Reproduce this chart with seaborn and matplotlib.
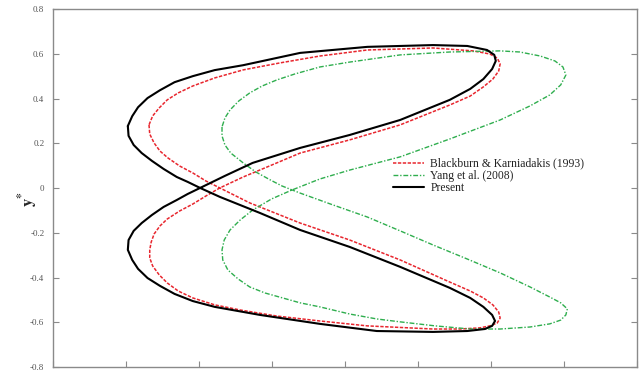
import numpy as np
import pandas as pd
import matplotlib
matplotlib.use("Agg")
import matplotlib.pyplot as plt
import seaborn as sns

# trajectories (x*, y*), each figure-eight traced once
black_x = [-0.297, -0.296, -0.289, -0.278, -0.264, -0.248, -0.230, -0.215, -0.198, -0.171,
           -0.116, -0.061, 0.007, 0.076, 0.144, 0.172, 0.190, 0.202, 0.206, 0.202,
           0.192, 0.168, 0.121, 0.044, -0.034, -0.116, -0.178, -0.208, -0.233, -0.253,
           -0.270, -0.283, -0.291, -0.297, -0.296, -0.289, -0.278, -0.264, -0.248, -0.230,
           -0.215, -0.198, -0.164, -0.126, -0.061, 0.007, 0.076, 0.144, 0.172, 0.190,
           0.202, 0.207, 0.205, 0.195, 0.168, 0.121, 0.031, -0.061, -0.139, -0.178,
           -0.208, -0.233, -0.253, -0.270, -0.283, -0.291, -0.297]
black_y = [0.278, 0.234, 0.193, 0.157, 0.122, 0.086, 0.050, 0.028, 0.001, -0.039,
           -0.111, -0.187, -0.263, -0.352, -0.446, -0.491, -0.531, -0.567, -0.594, -0.616,
           -0.630, -0.639, -0.643, -0.639, -0.607, -0.567, -0.531, -0.505, -0.473, -0.437,
           -0.402, -0.361, -0.321, -0.276, -0.232, -0.191, -0.156, -0.120, -0.084, -0.053,
           -0.026, 0.001, 0.055, 0.113, 0.180, 0.238, 0.305, 0.395, 0.444, 0.488,
           0.533, 0.569, 0.596, 0.618, 0.636, 0.640, 0.632, 0.605, 0.550, 0.528,
           0.501, 0.474, 0.438, 0.403, 0.362, 0.322, 0.278]

red_x = [-0.268, -0.267, -0.261, -0.253, -0.242, -0.226, -0.208, -0.190, -0.171, -0.130,
         -0.061, 0.007, 0.076, 0.144, 0.172, 0.190, 0.203, 0.211, 0.213, 0.209,
         0.199, 0.185, 0.158, 0.121, 0.031, -0.034, -0.093, -0.143, -0.178, -0.208,
         -0.228, -0.243, -0.254, -0.263, -0.267, -0.267, -0.265, -0.261, -0.253, -0.243,
         -0.226, -0.208, -0.190, -0.171, -0.139, -0.106, -0.061, 0.007, 0.076, 0.144,
         0.172, 0.190, 0.203, 0.211, 0.213, 0.209, 0.199, 0.176, 0.121, 0.031,
         -0.034, -0.089, -0.139, -0.178, -0.208, -0.228, -0.243, -0.254, -0.263, -0.268]
red_y = [0.283, 0.242, 0.202, 0.166, 0.135, 0.099, 0.068, 0.032, 0.001, -0.066,
         -0.156, -0.232, -0.321, -0.420, -0.460, -0.491, -0.522, -0.554, -0.581, -0.603,
         -0.616, -0.625, -0.630, -0.630, -0.616, -0.594, -0.572, -0.545, -0.522, -0.491,
         -0.460, -0.424, -0.388, -0.348, -0.312, -0.276, -0.241, -0.205, -0.169, -0.138,
         -0.102, -0.071, -0.035, 0.001, 0.050, 0.095, 0.157, 0.216, 0.283, 0.372,
         0.412, 0.453, 0.488, 0.524, 0.556, 0.582, 0.600, 0.614, 0.627, 0.618,
         0.591, 0.560, 0.529, 0.493, 0.457, 0.426, 0.395, 0.359, 0.323, 0.283]

green_x = [-0.168, -0.168, -0.164, -0.156, -0.139, -0.122, -0.102, -0.086, -0.072, -0.061,
           -0.016, 0.031, 0.076, 0.121, 0.168, 0.213, 0.254, 0.281, 0.296, 0.305,
           0.303, 0.296, 0.281, 0.254, 0.213, 0.172, 0.124, 0.076, 0.044, 0.007,
           -0.034, -0.061, -0.085, -0.109, -0.130, -0.146, -0.160, -0.167, -0.168, -0.165,
           -0.157, -0.143, -0.126, -0.100, -0.072, -0.034, 0.007, 0.076, 0.144, 0.213,
           0.254, 0.281, 0.296, 0.303, 0.299, 0.288, 0.268, 0.240, 0.213, 0.144,
           0.076, 0.007, -0.034, -0.068, -0.093, -0.113, -0.130, -0.145, -0.157, -0.164,
           -0.168]
green_y = [0.274, 0.234, 0.193, 0.157, 0.113, 0.073, 0.037, 0.010, -0.008, -0.022,
           -0.075, -0.129, -0.191, -0.254, -0.317, -0.379, -0.442, -0.487, -0.513, -0.540,
           -0.567, -0.590, -0.607, -0.621, -0.630, -0.630, -0.616, -0.598, -0.585, -0.563,
           -0.531, -0.513, -0.491, -0.469, -0.442, -0.406, -0.366, -0.321, -0.276, -0.232,
           -0.187, -0.142, -0.098, -0.048, -0.008, 0.041, 0.081, 0.140, 0.220, 0.305,
           0.368, 0.417, 0.462, 0.506, 0.542, 0.569, 0.591, 0.609, 0.614, 0.609,
           0.596, 0.564, 0.542, 0.511, 0.484, 0.457, 0.426, 0.390, 0.350, 0.314,
           0.274]

labels = ["Blackburn & Karniadakis (1993)", "Yang et al. (2008)", "Present"]
y_ticks = [-0.8, -0.6, -0.4, -0.2, 0, 0.2, 0.4, 0.6, 0.8]
y_tick_labels = ["-0.8", "-0.6", "-0.4", "-0.2", "0", "0.2", "0.4", "0.6", "0.8"]
x_ticks = [-0.4, -0.3, -0.2, -0.1, 0.0, 0.1, 0.2, 0.3, 0.4]

sns.set_style("white")
plt.rcParams["font.family"] = ["Liberation Serif", "DejaVu Serif"]
plt.rcParams["mathtext.fontset"] = "stix"

fig = plt.figure(figsize=(6.42, 3.72), dpi=100)
ax = fig.add_axes([0.082, 0.0134, 0.9097, 0.9616])

df_red = pd.DataFrame({"x": red_x, "y": red_y})
df_green = pd.DataFrame({"x": green_x, "y": green_y})
df_black = pd.DataFrame({"x": black_x, "y": black_y})

sns.lineplot(data=df_red, x="x", y="y", sort=False, estimator=None, ax=ax,
             color="#e8262e", linewidth=1.1, label=labels[0])
sns.lineplot(data=df_green, x="x", y="y", sort=False, estimator=None, ax=ax,
             color="#2fae4e", linewidth=1.0, label=labels[1])
sns.lineplot(data=df_black, x="x", y="y", sort=False, estimator=None, ax=ax,
             color="black", linewidth=1.5, label=labels[2])
lines = ax.get_lines()
lines[0].set_dashes([2.2, 1.0])
lines[1].set_dashes([3.5, 1.3, 1.0, 1.3])
for ln in lines:
    ln.set_solid_joinstyle("round")
    ln.set_dash_joinstyle("round")

ax.set_xlim(-0.4, 0.4)
ax.set_ylim(-0.8, 0.8)
ax.set_xticks(x_ticks)
ax.set_xticklabels([])
ax.set_yticks(y_ticks)
ax.set_yticklabels(y_tick_labels)
ax.set_xlabel("")
ax.set_ylabel(r"$\mathbf{y^{*}}$", fontsize=12, rotation=90)
ax.yaxis.set_label_coords(-0.022, 0.47)

for sp in ax.spines.values():
    sp.set_color("#8a8a8a")
    sp.set_linewidth(1.0)
ax.tick_params(axis="both", which="both", direction="in", length=4, width=0.8,
               color="#8a8a8a", labelsize=6.5, labelcolor="#555555")
ax.tick_params(axis="y", right=True, left=True, pad=6)
ax.tick_params(axis="x", bottom=True, top=False)

leg = ax.legend(loc="upper left", bbox_to_anchor=(0.5827, 0.585), frameon=False,
                fontsize=8.4, handlelength=2.7, handletextpad=0.5,
                labelspacing=0.0, borderpad=0, borderaxespad=0)
for t in leg.get_texts():
    t.set_color("#222222")

fig.savefig("out.png", dpi=100)
